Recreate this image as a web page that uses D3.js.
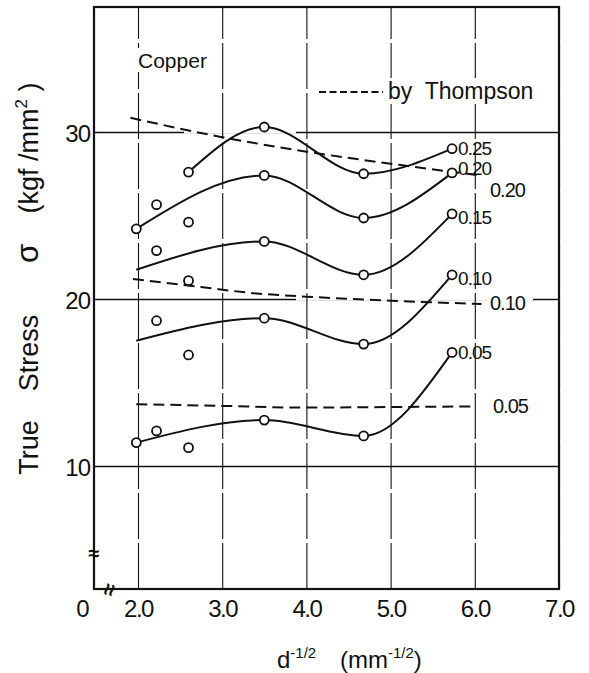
<!DOCTYPE html>
<html><head><meta charset="utf-8">
<script src="https://cdn.jsdelivr.net/npm/d3@7"></script>
<style>
body{margin:0;background:#fff;}
svg{display:block;}
text{font-family:"Liberation Sans",Arial,sans-serif;fill:#111;}
</style></head><body>
<svg id="c" width="589" height="673"></svg>
<script>
// ---------------- data ----------------
const strainLabels = ["0.25", "0.20", "0.15", "0.10", "0.05"];
// measured grain sizes d^-1/2 (mm^-1/2)
const grainX = [1.98, 2.22, 2.60, 3.50, 4.68, 5.73];
// measured true stress (kgf/mm^2); null = no measurement
const pts025 = [null, null, 27.6, 30.3, 27.5, 29.0];
const pts020 = [24.2, 25.65, 24.6, 27.4, 24.85, 27.55];
const pts015 = [null, 22.9, 21.1, 23.45, 21.45, 25.1];
const pts010 = [null, 18.7, 16.65, 18.85, 17.3, 21.45];
const pts005 = [11.4, 12.1, 11.1, 12.75, 11.8, 16.8];
// fitted curves
const fitX025 = [2.60, 3.50, 4.68, 5.73];
const fitX = [1.98, 3.50, 4.68, 5.73];
const fit025 = [27.6, 30.3, 27.5, 29.0];
const fit020 = [24.2, 27.4, 24.85, 27.55];
const fit015 = [21.75, 23.45, 21.45, 25.1];
const fit010 = [17.5, 18.85, 17.3, 21.45];
const fit005 = [11.4, 12.75, 11.8, 16.8];
// Thompson's curves
const thompsonLabels = ["0.20", "0.10", "0.05"];
const thX020 = [1.91, 2.97, 4.16, 5.18, 6.06];
const th020 = [30.85, 29.72, 28.7, 27.98, 27.4];
const thX010 = [1.94, 2.77, 3.37, 4.0, 5.0, 6.08];
const th010 = [21.2, 20.7, 20.35, 20.14, 19.9, 19.7];
const thX005 = [1.98, 3.0, 3.88, 5.0, 6.0];
const th005 = [13.7, 13.6, 13.5, 13.53, 13.57];
// axes
const xTicks = [2, 3, 4, 5, 6, 7];
const yTicks = [10, 20, 30];

// ---------------- layout ----------------
const L = 94, R = 559, T = 7, B = 589;
const svg = d3.select("#c");
const x = d3.scaleLinear().domain([2, 7]).range([138, 559]);
const y = d3.scaleLinear().domain([10, 30]).range([466, 132]);

// y axis with horizontal gridlines
const gy = svg.append("g").attr("transform", `translate(${L},0)`)
  .call(d3.axisLeft(y).tickValues(yTicks).tickSize(-(R - L)).tickPadding(4).tickFormat(d3.format("d")));
gy.select(".domain").remove();
gy.selectAll("line").attr("stroke", "#111").attr("stroke-width", 1.3);
gy.selectAll("text").attr("font-size", 24).attr("fill", "#111").attr("dy", "0.38em").style("letter-spacing", "-1px");

// drafting breaks in the horizontal gridlines
svg.append("line").attr("x1", 184).attr("x2", 296).attr("y1", y(30)).attr("y2", y(30))
  .attr("stroke", "#fff").attr("stroke-width", 3);
svg.append("line").attr("x1", 296).attr("x2", 533).attr("y1", y(20)).attr("y2", y(20))
  .attr("stroke", "#fff").attr("stroke-width", 3);

// x axis with vertical dashed gridlines
const gx = svg.append("g").attr("transform", `translate(0,${B})`)
  .call(d3.axisBottom(x).tickValues(xTicks).tickSize(-(B - T)).tickPadding(11).tickFormat(d3.format(".1f")));
gx.select(".domain").remove();
gx.selectAll("line").attr("stroke", "#111").attr("stroke-width", 1.1).attr("stroke-dasharray", "46 4");
gx.selectAll("text").attr("font-size", 24).attr("fill", "#111").style("letter-spacing", "-1.5px");

// origin label "0"
svg.append("text").attr("x", 83).attr("y", 617).attr("text-anchor", "middle").attr("font-size", 24).text("0");

// frame
svg.append("rect").attr("x", L).attr("y", T).attr("width", R - L).attr("height", B - T)
  .attr("fill", "none").attr("stroke", "#111").attr("stroke-width", 2.2);

// break marks
svg.append("text").attr("x", L).attr("y", 560).attr("text-anchor", "middle")
  .attr("font-size", 20).attr("font-weight", "bold").text("≈");
svg.append("text").attr("transform", `translate(110,590) rotate(-75)`).attr("text-anchor", "middle")
  .attr("dy", "0.3em").attr("font-size", 22).attr("font-weight", "bold").text("≈");

// Thompson dashed curves
const thLine = d3.line().x(d => x(d[0])).y(d => y(d[1])).curve(d3.curveMonotoneX);
const thSets = [[thX020, th020], [thX010, th010], [thX005, th005]];
thSets.forEach(([xs, ys]) => {
  svg.append("path").attr("d", thLine(xs.map((v, i) => [v, ys[i]])))
    .attr("fill", "none").attr("stroke", "#111").attr("stroke-width", 2).attr("stroke-dasharray", "11 6");
});

// fitted curves
const fitLine = d3.line().x(d => x(d[0])).y(d => y(d[1])).curve(d3.curveMonotoneX);
const fits = [[fitX025, fit025], [fitX, fit020], [fitX, fit015], [fitX, fit010], [fitX, fit005]];
fits.forEach(([xs, ys]) => {
  svg.append("path").attr("d", fitLine(xs.map((v, i) => [v, ys[i]])))
    .attr("fill", "none").attr("stroke", "#111").attr("stroke-width", 2);
});

// measured points
const allPts = [pts025, pts020, pts015, pts010, pts005];
allPts.forEach(arr => {
  arr.forEach((v, i) => {
    if (v === null) return;
    svg.append("circle").attr("cx", x(grainX[i])).attr("cy", y(v)).attr("r", 4.5)
      .attr("fill", "#fff").attr("stroke", "#111").attr("stroke-width", 1.8);
  });
});

// curve labels at the right ends
const labelNudge = [-1, -5, 3, 3, 0];
allPts.forEach((arr, k) => {
  const v = arr[arr.length - 1];
  svg.append("text").attr("x", x(grainX[grainX.length - 1]) + 6).attr("y", y(v) + labelNudge[k])
    .attr("dy", "0.36em").attr("font-size", 19).style("letter-spacing", "-1px").text(strainLabels[k]);
});

// Thompson labels
const thLabelPos = [[490, 190], [490, 302.5], [493, 406]];
thompsonLabels.forEach((t, k) => {
  const g = svg.append("g");
  g.append("rect").attr("x", thLabelPos[k][0] - 3).attr("y", thLabelPos[k][1] - 10)
    .attr("width", 44).attr("height", 20).attr("fill", "#fff");
  g.append("text").attr("x", thLabelPos[k][0]).attr("y", thLabelPos[k][1]).attr("dy", "0.36em")
    .attr("font-size", 20).style("letter-spacing", "-1px").text(t);
});

// legend
svg.append("rect").attr("x", 312).attr("y", 78).attr("width", 240).attr("height", 26).attr("fill", "#fff");
svg.append("line").attr("x1", 319).attr("x2", 383).attr("y1", 92).attr("y2", 92)
  .attr("stroke", "#111").attr("stroke-width", 1.8).attr("stroke-dasharray", "7 3.5");
svg.append("text").attr("x", 388).attr("y", 99).attr("font-size", 23)
  .style("white-space", "pre").text("by  Thompson");

// material label
svg.append("rect").attr("x", 134).attr("y", 48).attr("width", 80).attr("height", 24).attr("fill", "#fff");
svg.append("text").attr("x", 138).attr("y", 68).attr("font-size", 21).text("Copper");

// y-axis title (rotated pieces)
const yt = [["True", 447.5, 27], ["Stress", 353, 27], ["σ", 253.5, 31]];
yt.forEach(([t, cy, fs]) => {
  svg.append("text").attr("transform", `translate(38,${cy}) rotate(-90)`).attr("text-anchor", "middle")
    .attr("font-size", fs).text(t);
});
const unit = svg.append("text").attr("transform", `translate(38,148) rotate(-90)`).attr("text-anchor", "middle")
  .attr("font-size", 27).style("white-space", "pre");
unit.append("tspan").text("(kgf /mm");
unit.append("tspan").attr("dy", -11).attr("font-size", 17).text("2");
unit.append("tspan").attr("dy", 11).text(" )");

// x-axis title
const xt1 = svg.append("text").attr("x", 277).attr("y", 668).attr("font-size", 24);
xt1.append("tspan").text("d");
xt1.append("tspan").attr("dy", -10).attr("font-size", 15).text("-1/2");
const xt2 = svg.append("text").attr("x", 340).attr("y", 668).attr("font-size", 24);
xt2.append("tspan").text("(mm");
xt2.append("tspan").attr("dy", -10).attr("font-size", 15).text("-1/2");
xt2.append("tspan").attr("dy", 10).text(")");
</script>
</body></html>
